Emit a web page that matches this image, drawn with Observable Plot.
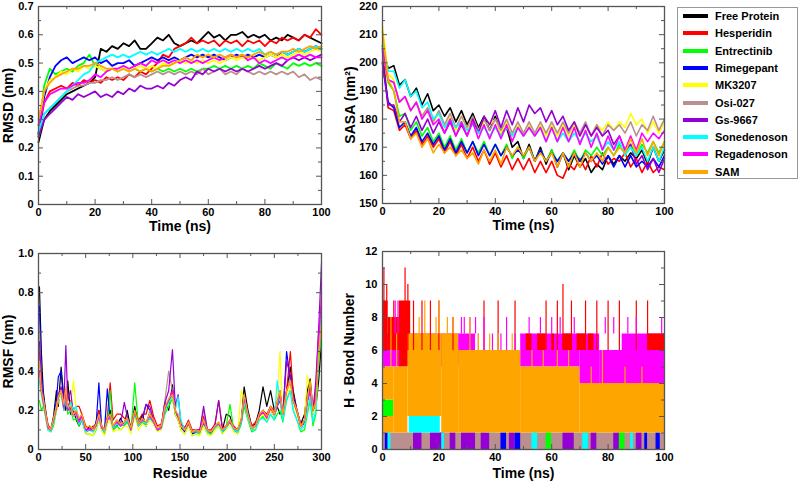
<!DOCTYPE html>
<html><head><meta charset="utf-8">
<script src="https://cdn.jsdelivr.net/npm/d3@7"></script>
<script src="https://cdn.jsdelivr.net/npm/@observablehq/plot@0.6"></script>
<style>
body{margin:0;background:#fff;}
#root{position:relative;width:799px;height:482px;overflow:hidden;font-family:"Liberation Sans",Arial,sans-serif;}
.pnl{position:absolute;}
#legend{position:absolute;left:677px;top:7px;width:121px;height:172px;border:1px solid #999;box-sizing:border-box;background:#fff;}
.li{position:absolute;left:0;width:120px;height:14px;}
.sw{position:absolute;left:5px;top:5px;width:25px;height:4px;}
.lt{position:absolute;left:37px;top:0;font-weight:bold;font-size:11px;line-height:14px;white-space:nowrap;}
</style></head><body><div id="root"></div><script>
const names = ["Free Protein","Hesperidin","Entrectinib","Rimegepant","MK3207","Osi-027","Gs-9667","Sonedenoson","Regadenoson","SAM"];
const colors = ["#000000","#ff0000","#00ff00","#0000ff","#ffff00","#bc8f8f","#9400d3","#00ffff","#ff00ff","#ffa500"];

// ---------- RMSD (nm) vs time (ns) ----------
const timeNs = [0,2,4,6,8,10,12,14,16,18,20,22,24,26,28,30,32,34,36,38,40,42,44,46,48,50,52,54,56,58,60,62,64,66,68,70,72,74,76,78,80,82,84,86,88,90,92,94,96,98,100];
const rmsdFree = [0.22,0.30,0.33,0.35,0.37,0.39,0.40,0.41,0.42,0.43,0.45,0.55,0.54,0.56,0.55,0.57,0.56,0.58,0.55,0.55,0.57,0.59,0.58,0.60,0.57,0.56,0.57,0.58,0.57,0.59,0.61,0.59,0.60,0.58,0.60,0.60,0.61,0.59,0.60,0.59,0.60,0.58,0.59,0.58,0.60,0.59,0.58,0.60,0.59,0.58,0.57];
const rmsdHesp = [0.25,0.36,0.40,0.41,0.42,0.41,0.43,0.42,0.44,0.43,0.44,0.43,0.45,0.44,0.45,0.44,0.46,0.45,0.47,0.46,0.48,0.50,0.53,0.52,0.55,0.56,0.57,0.59,0.57,0.58,0.57,0.58,0.56,0.58,0.57,0.58,0.56,0.58,0.57,0.58,0.56,0.58,0.57,0.59,0.58,0.59,0.58,0.60,0.59,0.62,0.60];
const rmsdEntr = [0.24,0.42,0.48,0.46,0.47,0.48,0.47,0.49,0.50,0.53,0.49,0.48,0.47,0.48,0.47,0.48,0.47,0.48,0.47,0.48,0.47,0.48,0.47,0.48,0.47,0.48,0.47,0.48,0.47,0.48,0.48,0.49,0.48,0.49,0.48,0.49,0.48,0.49,0.48,0.50,0.49,0.48,0.50,0.49,0.48,0.50,0.49,0.50,0.49,0.50,0.49];
const rmsdRime = [0.25,0.38,0.45,0.49,0.51,0.52,0.50,0.51,0.52,0.51,0.52,0.50,0.51,0.49,0.50,0.50,0.51,0.49,0.50,0.51,0.52,0.51,0.52,0.51,0.52,0.51,0.52,0.53,0.52,0.53,0.52,0.53,0.52,0.51,0.52,0.53,0.52,0.53,0.52,0.53,0.52,0.53,0.52,0.54,0.53,0.54,0.55,0.54,0.55,0.56,0.55];
const rmsdMK = [0.28,0.40,0.44,0.45,0.47,0.46,0.48,0.47,0.49,0.48,0.49,0.48,0.47,0.48,0.47,0.48,0.47,0.48,0.49,0.48,0.49,0.48,0.50,0.49,0.50,0.51,0.50,0.51,0.50,0.51,0.50,0.51,0.50,0.51,0.52,0.51,0.52,0.51,0.52,0.51,0.52,0.53,0.52,0.53,0.52,0.53,0.54,0.53,0.54,0.55,0.54];
const rmsdOsi = [0.24,0.32,0.34,0.36,0.38,0.40,0.41,0.42,0.42,0.43,0.43,0.44,0.44,0.45,0.44,0.45,0.46,0.45,0.46,0.45,0.46,0.47,0.46,0.47,0.46,0.47,0.46,0.47,0.46,0.48,0.46,0.47,0.48,0.46,0.47,0.46,0.48,0.47,0.46,0.47,0.46,0.47,0.46,0.47,0.46,0.47,0.45,0.46,0.44,0.45,0.44];
const rmsdGs = [0.24,0.30,0.32,0.34,0.36,0.38,0.37,0.39,0.38,0.39,0.40,0.38,0.39,0.38,0.40,0.39,0.41,0.40,0.42,0.41,0.41,0.42,0.41,0.43,0.42,0.44,0.45,0.44,0.47,0.46,0.48,0.47,0.48,0.47,0.48,0.47,0.48,0.47,0.48,0.49,0.48,0.49,0.50,0.49,0.51,0.52,0.51,0.52,0.51,0.52,0.53];
const rmsdSone = [0.26,0.32,0.34,0.36,0.38,0.40,0.42,0.44,0.46,0.47,0.50,0.51,0.52,0.53,0.52,0.53,0.52,0.53,0.54,0.53,0.54,0.53,0.54,0.55,0.54,0.55,0.54,0.55,0.54,0.55,0.54,0.55,0.54,0.55,0.54,0.55,0.54,0.55,0.54,0.55,0.53,0.54,0.53,0.54,0.53,0.54,0.55,0.54,0.55,0.56,0.55];
const rmsdRega = [0.28,0.36,0.39,0.40,0.41,0.41,0.42,0.43,0.43,0.44,0.46,0.45,0.47,0.48,0.48,0.49,0.48,0.49,0.50,0.49,0.51,0.50,0.51,0.50,0.51,0.50,0.51,0.50,0.51,0.50,0.51,0.52,0.51,0.52,0.53,0.52,0.53,0.51,0.52,0.50,0.51,0.50,0.51,0.52,0.51,0.52,0.53,0.52,0.53,0.52,0.52];
const rmsdSAM = [0.30,0.40,0.43,0.45,0.46,0.47,0.48,0.48,0.49,0.49,0.50,0.49,0.48,0.48,0.47,0.48,0.47,0.48,0.47,0.48,0.47,0.48,0.49,0.49,0.50,0.51,0.52,0.51,0.53,0.52,0.53,0.52,0.53,0.52,0.53,0.52,0.53,0.52,0.53,0.54,0.53,0.54,0.53,0.54,0.54,0.55,0.54,0.55,0.56,0.55,0.56];

// ---------- SASA (nm^2) vs time (ns) ----------
const sasaFree = [206,198,199,192,194,188,191,185,189,183,185,181,184,179,183,178,182,177,181,176,181,175,177,170,172,166,171,165,170,164,169,163,168,162,167,163,166,161,164,162,167,164,167,165,168,166,169,164,170,165,169];
const sasaHesp = [205,184,183,176,178,173,176,171,174,170,173,168,172,167,171,166,170,165,169,164,168,163,167,162,166,162,166,161,165,161,165,160,159,164,162,166,162,167,163,168,164,166,165,168,163,166,161,165,161,163,162];
const sasaEntr = [206,193,190,181,182,176,179,174,177,172,175,170,174,169,173,168,172,168,172,167,171,167,171,166,170,166,170,165,169,165,169,165,168,165,169,165,169,167,170,167,170,167,171,168,171,167,171,168,172,168,172];
const sasaRime = [200,186,184,177,179,174,177,172,175,171,174,169,173,168,172,168,172,167,171,167,171,167,170,167,169,167,170,165,169,165,168,165,168,165,168,165,168,165,167,164,167,163,167,163,167,163,165,163,166,163,167];
const sasaMK = [213,196,194,186,188,183,186,181,184,179,182,177,181,176,181,176,180,175,179,178,180,175,179,174,178,174,178,174,178,174,178,174,178,174,178,174,178,174,178,176,179,176,179,177,182,178,180,175,179,175,179];
const sasaOsi = [204,194,193,186,188,183,186,181,184,179,183,178,182,177,181,177,181,176,180,176,180,176,180,175,179,175,179,175,179,175,179,175,179,175,179,175,179,174,178,174,178,176,178,175,179,174,178,176,181,176,180];
const sasaGs = [200,185,185,179,182,177,181,176,180,175,179,175,179,174,178,174,180,175,181,178,183,177,183,178,184,179,185,182,184,179,183,178,181,176,179,174,178,174,177,174,176,171,174,169,171,164,167,162,166,161,166];
const sasaSone = [207,197,197,191,194,188,190,184,186,180,182,177,180,177,179,176,178,175,177,174,177,174,177,174,177,174,177,174,177,172,177,172,175,172,175,172,175,172,174,169,172,169,172,167,170,167,170,165,170,165,170];
const sasaRega = [205,194,193,186,188,183,186,180,183,178,180,175,180,174,179,174,179,173,178,173,178,173,178,172,177,174,177,174,177,172,177,172,177,172,177,171,176,170,175,169,174,169,174,169,174,169,175,172,175,173,176];
const sasaSAM = [211,194,190,179,179,173,175,170,173,168,171,168,170,167,169,166,168,164,169,165,169,164,170,167,170,167,170,165,168,165,168,163,168,163,168,163,168,165,168,165,170,167,170,168,173,168,173,167,172,167,172];

// ---------- RMSF (nm) vs residue ----------
const residue = [1,3,5,7,10,13,16,19,21,24,27,29,31,34,37,40,43,46,50,54,58,61,64,67,70,73,76,79,83,87,91,94,98,102,106,110,114,118,122,126,130,134,138,142,145,148,151,155,159,163,167,171,175,179,183,187,191,195,199,203,207,211,215,218,222,226,230,234,238,242,246,250,253,256,259,263,267,270,274,278,282,285,288,291,294,297,300];
const rmsfFree = [0.83,0.5,0.3,0.22,0.12,0.1,0.17,0.3,0.22,0.42, 0.25,0.2,0.35,0.18,0.2,0.15,0.12,0.15,0.09,0.12, 0.1,0.14,0.2,0.1,0.08,0.15,0.2,0.1,0.12,0.16, 0.12,0.2,0.1,0.22,0.12,0.18,0.12,0.16,0.14,0.1, 0.11,0.24,0.2,0.33,0.18,0.15,0.11,0.1,0.13,0.08, 0.09,0.1,0.13,0.1,0.08,0.12,0.12,0.1,0.18,0.17, 0.1,0.09,0.14,0.32,0.2,0.12,0.13,0.2,0.32,0.22, 0.3,0.2,0.22,0.18,0.2,0.3,0.42,0.3,0.2,0.13, 0.18,0.3,0.36,0.2,0.22,0.35,0.55];
const rmsfHesp = [0.5,0.32,0.27,0.2,0.13,0.1,0.15,0.2,0.25,0.3, 0.2,0.28,0.22,0.25,0.2,0.22,0.22,0.18,0.12,0.1, 0.12,0.12,0.2,0.12,0.1,0.17,0.34,0.15,0.18,0.18, 0.16,0.15,0.12,0.2,0.15,0.18,0.18,0.25,0.17,0.12, 0.13,0.2,0.25,0.3,0.2,0.17,0.13,0.11,0.15,0.1, 0.1,0.1,0.17,0.1,0.1,0.13,0.25,0.11,0.12,0.15, 0.12,0.1,0.14,0.25,0.18,0.12,0.14,0.17,0.2,0.18, 0.22,0.2,0.25,0.28,0.2,0.3,0.5,0.28,0.2,0.13, 0.15,0.25,0.3,0.2,0.3,0.6,0.72];
const rmsfEntr = [0.25,0.2,0.22,0.18,0.1,0.09,0.12,0.2,0.25,0.28, 0.2,0.25,0.18,0.2,0.15,0.16,0.12,0.15,0.08,0.08, 0.07,0.1,0.15,0.1,0.08,0.14,0.3,0.1,0.12,0.1, 0.12,0.14,0.1,0.34,0.12,0.14,0.12,0.16,0.13,0.1, 0.1,0.18,0.22,0.26,0.18,0.16,0.1,0.08,0.12,0.07, 0.08,0.08,0.12,0.08,0.08,0.1,0.12,0.08,0.12,0.23, 0.1,0.08,0.13,0.22,0.15,0.09,0.1,0.15,0.17,0.14, 0.18,0.15,0.18,0.2,0.14,0.25,0.3,0.2,0.15,0.09, 0.1,0.18,0.25,0.12,0.18,0.45,0.6];
const rmsfRime = [0.73,0.4,0.28,0.2,0.11,0.1,0.15,0.25,0.37,0.4, 0.22,0.25,0.2,0.22,0.18,0.18,0.14,0.16,0.09,0.1, 0.1,0.12,0.34,0.11,0.1,0.31,0.15,0.11,0.14,0.12, 0.13,0.15,0.1,0.18,0.12,0.15,0.23,0.2,0.14,0.1, 0.11,0.2,0.25,0.28,0.19,0.16,0.12,0.09,0.13,0.08, 0.09,0.09,0.14,0.09,0.09,0.11,0.13,0.09,0.11,0.14, 0.1,0.09,0.15,0.28,0.17,0.1,0.11,0.17,0.2,0.16, 0.2,0.17,0.22,0.25,0.17,0.5,0.35,0.27,0.2,0.11, 0.14,0.25,0.3,0.18,0.25,0.5,0.7];
const rmsfMK = [0.4,0.28,0.22,0.18,0.1,0.1,0.14,0.2,0.25,0.28, 0.22,0.3,0.2,0.22,0.35,0.2,0.14,0.16,0.08,0.08, 0.07,0.11,0.15,0.1,0.07,0.13,0.15,0.09,0.1,0.1, 0.12,0.12,0.08,0.17,0.1,0.13,0.12,0.15,0.13,0.09, 0.1,0.2,0.24,0.27,0.18,0.15,0.1,0.08,0.12,0.07, 0.08,0.07,0.12,0.08,0.07,0.1,0.12,0.08,0.1,0.13, 0.09,0.08,0.3,0.26,0.16,0.1,0.11,0.16,0.18,0.15, 0.2,0.17,0.25,0.5,0.17,0.28,0.32,0.24,0.18,0.11, 0.15,0.38,0.3,0.18,0.22,0.5,0.7];
const rmsfOsi = [0.6,0.35,0.26,0.2,0.12,0.1,0.15,0.22,0.27,0.3, 0.2,0.28,0.2,0.2,0.17,0.18,0.14,0.17,0.1,0.1, 0.09,0.12,0.17,0.11,0.09,0.15,0.17,0.11,0.14,0.12, 0.13,0.16,0.1,0.19,0.12,0.15,0.13,0.2,0.14,0.1, 0.11,0.25,0.4,0.3,0.2,0.17,0.12,0.1,0.14,0.09, 0.1,0.09,0.2,0.1,0.09,0.12,0.14,0.1,0.12,0.15, 0.11,0.09,0.15,0.27,0.17,0.11,0.12,0.18,0.2,0.17, 0.22,0.18,0.22,0.27,0.18,0.3,0.35,0.25,0.2,0.12, 0.15,0.25,0.32,0.2,0.25,0.55,0.72];
const rmsfGs = [0.55,0.35,0.25,0.2,0.12,0.1,0.15,0.22,0.28,0.32, 0.25,0.53,0.25,0.3,0.18,0.2,0.15,0.18,0.1,0.11, 0.1,0.13,0.18,0.12,0.1,0.16,0.18,0.12,0.15,0.13, 0.24,0.17,0.11,0.2,0.13,0.16,0.23,0.22,0.15,0.11, 0.12,0.24,0.3,0.51,0.22,0.28,0.13,0.11,0.14,0.09, 0.1,0.1,0.22,0.1,0.09,0.12,0.25,0.1,0.12,0.15, 0.11,0.1,0.15,0.27,0.18,0.11,0.12,0.18,0.2,0.17, 0.22,0.18,0.24,0.3,0.18,0.45,0.38,0.25,0.2,0.12, 0.15,0.25,0.32,0.2,0.35,0.62,0.95];
const rmsfSone = [0.35,0.28,0.23,0.18,0.1,0.09,0.14,0.22,0.26,0.3, 0.2,0.27,0.2,0.24,0.2,0.22,0.13,0.15,0.09,0.1, 0.09,0.12,0.16,0.11,0.09,0.15,0.17,0.11,0.13,0.12, 0.13,0.15,0.1,0.18,0.12,0.15,0.13,0.16,0.14,0.1, 0.11,0.2,0.24,0.27,0.2,0.27,0.15,0.1,0.13,0.09, 0.09,0.09,0.14,0.09,0.09,0.11,0.13,0.09,0.11,0.14, 0.1,0.09,0.14,0.25,0.16,0.1,0.1,0.15,0.16,0.14, 0.18,0.15,0.35,0.25,0.15,0.26,0.3,0.2,0.15,0.1, 0.12,0.2,0.27,0.14,0.2,0.5,0.68];
const rmsfRega = [0.4,0.3,0.24,0.19,0.11,0.1,0.15,0.21,0.27,0.3, 0.21,0.29,0.2,0.22,0.18,0.19,0.14,0.17,0.1,0.1, 0.1,0.12,0.17,0.11,0.1,0.15,0.17,0.12,0.14,0.12, 0.14,0.16,0.1,0.19,0.13,0.15,0.14,0.17,0.14,0.1, 0.11,0.21,0.25,0.3,0.2,0.17,0.12,0.1,0.13,0.09, 0.1,0.09,0.14,0.1,0.09,0.12,0.13,0.1,0.12,0.14, 0.11,0.1,0.15,0.26,0.18,0.11,0.12,0.17,0.19,0.16, 0.21,0.18,0.23,0.28,0.18,0.3,0.35,0.25,0.19,0.12, 0.15,0.24,0.3,0.2,0.26,0.55,0.8];
const rmsfSAM = [0.45,0.3,0.26,0.2,0.12,0.1,0.16,0.22,0.27,0.3, 0.23,0.32,0.22,0.22,0.18,0.2,0.16,0.18,0.11,0.12, 0.1,0.13,0.18,0.12,0.1,0.16,0.18,0.12,0.15,0.13, 0.14,0.16,0.11,0.2,0.13,0.16,0.14,0.18,0.15,0.11, 0.12,0.22,0.26,0.28,0.2,0.18,0.12,0.1,0.14,0.09, 0.1,0.09,0.15,0.1,0.09,0.12,0.14,0.1,0.12,0.15, 0.11,0.1,0.16,0.28,0.18,0.11,0.12,0.18,0.2,0.17, 0.22,0.18,0.24,0.3,0.18,0.3,0.35,0.25,0.2,0.12, 0.15,0.26,0.35,0.2,0.24,0.5,0.65];

// ---------- H-bond number: bands [t1, t2, low, high] and spikes [t, low, high] ----------
const hbOsi = [[0,100,0,1]];
const hbGs = [[11,14,0,1],[17,22,0,1],[24,26,0,1],[28,33,0,1],[35,38,0,1],[45,47,0,1],[64,68,0,1],[74,76,0,1],[82,84,0,1],[90,92,0,1]];
const hbRime = [[1,2,0,1],[42,44,0,1],[47,49,0,1],[93,94,0,1],[97,98.5,0,1]];
const hbEntr = [[0,4,2,3],[58,60,0,1],[84,86,0,1]];
const hbSone = [[9.5,20.5,1,2],[36.5,40,1,3],[2,3,0,1],[21,22,0,1],[53,55,0,1],[71,73,0,1],[88,89,0,1]];
const hbRega = [[0,3,5,7],[3,8,5,8],[10,27,5,7],[27,33,5,7],[49,70,5,7],[70,77,4,7],[77,100,4,6],[85,100,6,7]];
const hbHesp = [[0,2,6,9],[2,6,6,8],[6,10,5,9],[51,53,6,7],[55,58,6,7],[60,61,6,7],[64,67,6,7],[69,72,6,7],[73,75,6,7],[94,100,6,7]];
const hbSAM = [[0,4,1,2],[0,4,3,5],[4,9,1,5],[9,21,2,7],[21,27,1,7],[27,49,1,6],[49,70,1,5],[70,100,1,4]];
const hbHespSpikes = [[0.5,6,11],[1.5,6,10],[4,6,9],[8,6,11],[9,6,10],[11,6,9],[14,6,9],[17,6,9],[20,6,9],[25,6,8],[36,6,9],[41,6,9],[47,6,9],[58,6,9],[62,6,9],[64,6,10],[67,6,9],[72,6,9],[76,6,9],[80,6,9],[84,6,9],[90,6,9],[94,6,9]];
const hbRegaSpikes = [[4.5,7,9],[5.5,7,9],[28,7,8],[29,7,8],[31,7,8],[33,7,8],[34,6,7],[36,6,8],[39,6,7],[42,6,7],[44,6,8],[47,6,7],[52,7,8],[56,7,8],[60,7,8],[63,7,8],[68,7,8],[79,7,8],[82,7,8],[87,7,8],[90,7,8],[99,7,8]];
const hbSAMSpikes = [[3,5,8],[5,5,7],[13,7,8],[15,7,9],[19,7,8],[20,7,9],[23,7,8],[25,7,8],[31,6,8],[34,6,7],[38,6,7],[41,6,7],[46,6,7],[53,5,6],[57,5,6],[62,5,6],[66,5,6],[74,4,5],[78,4,6],[86,4,5],[92,4,5]];

// ---------- tick values ----------
const tMajor = [0,20,40,60,80,100], tMinor = [10,30,50,70,90];
const rmsdMajor = [0,0.1,0.2,0.3,0.4,0.5,0.6,0.7], rmsdMinor = [0.05,0.15,0.25,0.35,0.45,0.55,0.65];
const sasaMajor = [150,160,170,180,190,200,210,220], sasaMinor = [155,165,175,185,195,205,215];
const resMajor = [0,50,100,150,200,250,300], resMinor = [25,75,125,175,225,275];
const rmsfMajor = [0,0.2,0.4,0.6,0.8,1.0], rmsfMinor = [0.1,0.3,0.5,0.7,0.9];
const hbMajor = [0,2,4,6,8,10,12], hbMinor = [1,3,5,7,9,11];

// ---------- build tables ----------
function series(xs, arrs) {
  const rows = [];
  arrs.forEach((a, i) => a.forEach((v, j) => rows.push({s: names[i], x: xs[j], v})));
  return rows;
}
const rmsdRows = series(timeNs, [rmsdFree,rmsdHesp,rmsdEntr,rmsdRime,rmsdMK,rmsdOsi,rmsdGs,rmsdSone,rmsdRega,rmsdSAM]);
const sasaRows = series(timeNs, [sasaFree,sasaHesp,sasaEntr,sasaRime,sasaMK,sasaOsi,sasaGs,sasaSone,sasaRega,sasaSAM]);
const rmsfRows = series(residue, [rmsfFree,rmsfHesp,rmsfEntr,rmsfRime,rmsfMK,rmsfOsi,rmsfGs,rmsfSone,rmsfRega,rmsfSAM]);
const hbBands = [];
[["Osi-027",hbOsi],["Gs-9667",hbGs],["Rimegepant",hbRime],["Entrectinib",hbEntr],["Sonedenoson",hbSone],["Regadenoson",hbRega],["Hesperidin",hbHesp],["SAM",hbSAM]]
  .forEach(([s, a]) => a.forEach(([x1,x2,y1,y2]) => hbBands.push({s,x1,x2,y1,y2})));
const hbSpikes = [];
[["Hesperidin",hbHespSpikes],["Regadenoson",hbRegaSpikes],["SAM",hbSAMSpikes]]
  .forEach(([s, a]) => a.forEach(([x,y1,y2]) => hbSpikes.push({s,x,y1,y2})));

const root = document.getElementById("root");
const tc = "#555";
function panel(o) {
  const iw = o.w - o.ml - o.mr, ih = o.h - o.mt - o.mb;
  const M = 5, m = 3;
  const svg = Plot.plot({
    width: o.w, height: o.h, marginLeft: o.ml, marginRight: o.mr, marginTop: o.mt, marginBottom: o.mb,
    x: {domain: o.xd}, y: {domain: o.yd},
    color: {domain: names, range: colors},
    style: {fontFamily: "'Liberation Sans', Arial, sans-serif", fontWeight: "bold", fontSize: "11px", color: "#000", background: "transparent", overflow: "visible"},
    marks: [
      ...o.marks,
      Plot.ruleX(o.xM, {insetTop: ih - M, stroke: tc}),
      Plot.ruleX(o.xM, {insetBottom: ih - M, stroke: tc}),
      Plot.ruleX(o.xm, {insetTop: ih - m, stroke: tc}),
      Plot.ruleX(o.xm, {insetBottom: ih - m, stroke: tc}),
      Plot.ruleY(o.yM, {insetRight: iw - M, stroke: tc}),
      Plot.ruleY(o.yM, {insetLeft: iw - M, stroke: tc}),
      Plot.ruleY(o.ym, {insetRight: iw - m, stroke: tc}),
      Plot.ruleY(o.ym, {insetLeft: iw - m, stroke: tc}),
      Plot.frame({stroke: tc, strokeWidth: 1.3}),
      Plot.axisX(o.xM, {tickSize: 0, tickPadding: 4, label: null, fontSize: 11}),
      Plot.axisY(o.yM, {tickSize: 0, tickPadding: 5, label: null, fontSize: 11, tickFormat: o.yf}),
      Plot.text([o.xl], {frameAnchor: "bottom", dy: o.xdy, lineAnchor: "middle", textAnchor: "middle", fontSize: 14, fontWeight: "bold"}),
      Plot.text([o.yl], {frameAnchor: "left", dx: o.ydx, rotate: -90, lineAnchor: "middle", textAnchor: "middle", fontSize: 14, fontWeight: "bold"})
    ]
  });
  const d = document.createElement("div");
  d.className = "pnl"; d.style.left = o.left + "px"; d.style.top = o.top + "px";
  d.appendChild(svg); root.appendChild(d);
}
const f1 = d => d === 0 ? "0" : d.toFixed(1);

panel({left: 0, top: 0, w: 340, h: 235, ml: 38, mr: 19, mt: 6, mb: 31,
  xd: [0,100], yd: [0,0.7], xM: tMajor, xm: tMinor, yM: rmsdMajor, ym: rmsdMinor, yf: f1,
  xl: "Time (ns)", yl: "RMSD (nm)", xdy: 22, ydx: -30,
  marks: [Plot.line(rmsdRows, {x: "x", y: "v", z: "s", stroke: "s", strokeWidth: 1.8})]});

panel({left: 330, top: 0, w: 345, h: 235, ml: 52, mr: 11, mt: 6, mb: 32,
  xd: [0,100], yd: [150,220], xM: tMajor, xm: tMinor, yM: sasaMajor, ym: sasaMinor, yf: d => String(d),
  xl: "Time (ns)", yl: "SASA (nm\u00b2)", xdy: 22, ydx: -32,
  marks: [Plot.line(sasaRows, {x: "x", y: "v", z: "s", stroke: "s", strokeWidth: 1.6})]});

panel({left: 0, top: 240, w: 340, h: 242, ml: 38, mr: 19, mt: 13, mb: 33,
  xd: [0,300], yd: [0,1], xM: resMajor, xm: resMinor, yM: rmsfMajor, ym: rmsfMinor, yf: f1,
  xl: "Residue", yl: "RMSF (nm)", xdy: 24, ydx: -30,
  marks: [Plot.line(rmsfRows, {x: "x", y: "v", z: "s", stroke: "s", strokeWidth: 1.2})]});

panel({left: 330, top: 240, w: 345, h: 242, ml: 52, mr: 11, mt: 11, mb: 33,
  xd: [0,100], yd: [0,12], xM: tMajor, xm: tMinor, yM: hbMajor, ym: hbMinor, yf: d => String(d),
  xl: "Time (ns)", yl: "H - Bond Number", xdy: 24, ydx: -33,
  marks: [
    Plot.rect(hbBands, {x1: "x1", x2: "x2", y1: "y1", y2: "y2", fill: "s"}),
    Plot.ruleX(hbSpikes, {x: "x", y1: "y1", y2: "y2", stroke: "s", strokeWidth: 1.2})
  ]});

// legend
const lg = document.createElement("div"); lg.id = "legend";
names.forEach((n, i) => {
  const it = document.createElement("div"); it.className = "li"; it.style.top = (1 + i * 17.3) + "px";
  const sw = document.createElement("div"); sw.className = "sw"; sw.style.background = colors[i];
  const t = document.createElement("div"); t.className = "lt"; t.textContent = n;
  it.appendChild(sw); it.appendChild(t); lg.appendChild(it);
});
root.appendChild(lg);
</script></body></html>
